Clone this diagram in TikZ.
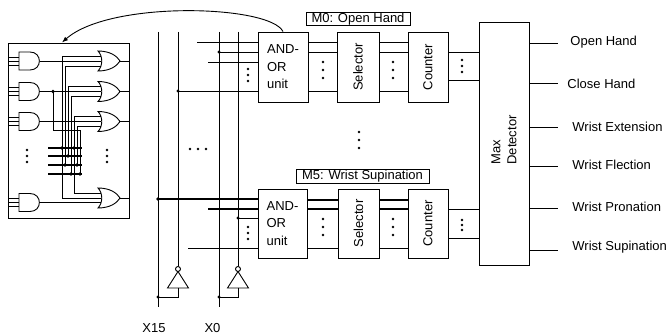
\documentclass[tikz,border=0pt]{standalone}
\usepackage{fontspec}
\setmainfont{Liberation Sans}
\usetikzlibrary{arrows.meta}
\tikzset{
  andg/.pic={\draw (0,-9) -- (11,-9) .. controls (23.5,-9) and (23.5,9) .. (11,9) -- (0,9) -- cycle;},
  org/.pic={\draw (0,-10) .. controls (5,-5) and (5,5) .. (0,10) .. controls (12,10) and (19,5) .. (22,0) .. controls (19,-5) and (12,-10) .. (0,-10) -- cycle;},
  invg/.pic={\draw (0,0) circle[radius=2.5pt]; \draw (0,2.5) -- (-10.5,19) -- (10.5,19) -- cycle;}
}
\begin{document}
\begin{tikzpicture}[x=1pt,y=-1pt,line width=0.9pt,
  txt/.style={font=\fontsize{13}{16}\selectfont, inner sep=0pt},
  blk/.style={draw, line width=0.9pt, inner sep=0pt},
  bus/.style={line width=2pt}]
\useasboundingbox (0,0) rectangle (672,336);

% ---------------- left box with gates ----------------
\node[blk, minimum width=121pt, minimum height=175pt] (lb) at (68.5,130.5) {};
\foreach \c in {61,91.5,121.5,202.5} {
  \pic at (19,\c) {andg};
  \draw (8,\c-4) -- (19,\c-4) (8,\c) -- (19,\c) (8,\c+4) -- (19,\c+4);
  \draw (40,\c) -- (101,\c);
}
\foreach \c in {61,91.5,121.5,198} {
  \pic at (98,\c) {org};
  \draw (120,\c) -- (129,\c);
}
\draw (101,56) -- (62,56) -- (62,198) -- (101,198);
\draw (101,66) -- (65,66) -- (65,165);
\draw (101,86.5) -- (68,86.5) -- (68,156);
\draw (101,96.5) -- (71,96.5) -- (71,174);
\draw (101,116.5) -- (74,116.5) -- (74,193.5) -- (101,193.5);
\draw (101,126.5) -- (77,126.5) -- (77,165);
\draw (53,91.5) -- (53,130) -- (80,130) -- (80,174);
\foreach \y in {148,156,165,174} \draw[bus] (48,\y) -- (82,\y);
\foreach \p in {(62,148),(65,165),(68,156),(71,174),(74,148),(77,165),(80,174),(53,91.5)}
  \fill \p circle[radius=1.8pt];
\foreach \y in {150,156,162} {
  \fill (27,\y) circle[radius=1.4pt];
  \fill (107,\y) circle[radius=1.4pt];
}

% ---------------- input lines and inverters ----------------
\draw (158,32) -- (158,307);
\draw (219,32) -- (219,307);
\draw (178,32) -- (178,266.5);
\draw (238,32) -- (238,266.5);
\pic at (178,269) {invg};
\pic at (238,269) {invg};
\draw (178,288) -- (178,297) -- (158,297);
\draw (238,288) -- (238,297) -- (219,297);
\fill (158,297) circle[radius=1.6pt];
\fill (219,297) circle[radius=1.6pt];
\node[txt] (x15) at (154,328) {X15};
\node[txt] (x0) at (212.5,328) {X0};
\foreach \x in {190,198,206} \fill (\x,149) circle[radius=1.4pt];

% ---------------- top module ----------------
\node[blk, txt, minimum width=50pt, minimum height=70pt, align=left,
      font=\fontsize{13}{17.5}\selectfont] (ao1) at (283,67) {AND-\\OR\\unit};
\node[blk, minimum width=42pt, minimum height=70pt] (sel1) at (358,67) {};
\node[txt, rotate=90] (sel1t) at (sel1.center) {Selector};
\node[blk, minimum width=40pt, minimum height=70pt] (cnt1) at (428,67) {};
\node[txt, rotate=90] (cnt1t) at (cnt1.center) {Counter};
\node[draw, txt, minimum width=104pt, minimum height=12pt] (m0) at (358,19) {M0: Open Hand};

\draw (197,42) -- (258,42);
\draw (219,52) -- (258,52);
\fill (219,52) circle[radius=1.6pt];
\draw (208,62) -- (258,62);
\draw (178,91) -- (258,91);
\fill (178,91) circle[radius=1.6pt];
\foreach \y in {69,75,81} \fill (248,\y) circle[radius=1.4pt];

\draw (308,42) -- (337,42) (308,52) -- (337,52) (308,91) -- (337,91);
\draw (379,42) -- (408,42) (379,52) -- (408,52) (379,91) -- (408,91);
\draw (448,52) -- (479,52) (448,80) -- (479,80);
\foreach \y in {62,70,78} {
  \fill (323,\y) circle[radius=1.4pt];
  \fill (393,\y) circle[radius=1.4pt];
}
\foreach \y in {60,66,72} \fill (462,\y) circle[radius=1.4pt];

% curved feedback arrow
\draw[-{Latex[length=6pt,width=4.5pt]}] (ao1.north) .. controls (270,5) and (110,0) .. (62,42.5);

% middle dots
\foreach \y in {132,140,148} \fill (359,\y) circle[radius=1.4pt];

% ---------------- bottom module ----------------
\node[blk, txt, minimum width=49pt, minimum height=69pt, align=left,
      font=\fontsize{13}{17.5}\selectfont] (ao2) at (282.5,223.5) {AND-\\OR\\unit};
\node[blk, minimum width=41pt, minimum height=69pt] (sel2) at (358.5,223.5) {};
\node[txt, rotate=90] (sel2t) at (sel2.center) {Selector};
\node[blk, minimum width=40pt, minimum height=69pt] (cnt2) at (428,223.5) {};
\node[txt, rotate=90] (cnt2t) at (cnt2.center) {Counter};
\node[draw, txt, minimum width=133pt, minimum height=14pt] (m5) at (362.5,176) {M5: Wrist Supination};

\draw[bus] (158,199) -- (258,199);
\fill (158,199) circle[radius=1.8pt];
\draw[bus] (208,209) -- (258,209);
\draw (238,218) -- (258,218);
\fill (238,218) circle[radius=1.6pt];
\draw (188,248) -- (258,248);
\foreach \y in {227,233,239} \fill (248,\y) circle[radius=1.4pt];

\draw[bus] (307,200) -- (338,200) (307,209) -- (338,209);
\draw (307,248) -- (338,248);
\draw[bus] (379,200) -- (408,200) (379,209) -- (408,209);
\draw (379,248) -- (408,248);
\draw (448,209) -- (479,209) (448,238) -- (479,238);
\foreach \y in {219,227,235} {
  \fill (323,\y) circle[radius=1.4pt];
  \fill (393,\y) circle[radius=1.4pt];
}
\foreach \y in {220,225,230} \fill (462,\y) circle[radius=1.4pt];

% ---------------- max detector and outputs ----------------
\node[blk, minimum width=50pt, minimum height=243pt] (max) at (504,143.5) {};
\node[txt, rotate=90, align=left] (maxt) at (504,140) {Max\\Detector};

\draw (529,43) -- (558,43);
\draw (529,83) -- (558,83);
\draw (529,127) -- (558,127);
\draw (529,166) -- (558,166);
\draw (529,208) -- (558,208);
\draw (529,250) -- (558,250);
\node[txt, anchor=west] (o1) at (570,42) {Open Hand};
\node[txt, anchor=west] (o2) at (567,84) {Close Hand};
\node[txt, anchor=west] (o3) at (572,127) {Wrist Extension};
\node[txt, anchor=west] (o4) at (572,165) {Wrist Flection};
\node[txt, anchor=west] (o5) at (572,207) {Wrist Pronation};
\node[txt, anchor=west] (o6) at (572,247) {Wrist Supination};
\end{tikzpicture}
\end{document}
